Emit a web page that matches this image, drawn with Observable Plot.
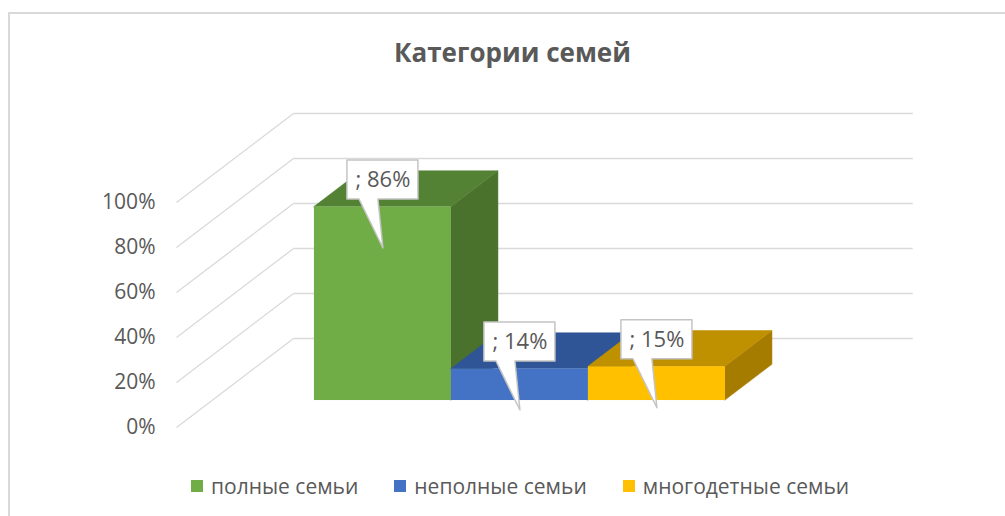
<!DOCTYPE html>
<html>
<head>
<meta charset="utf-8">
<script src="https://cdn.jsdelivr.net/npm/d3@7"></script>
<script src="https://cdn.jsdelivr.net/npm/@observablehq/plot@0.6"></script>
<style>
  body { margin: 0; background: #fff; font-family: "Open Sans", sans-serif; }
  #wrap { position: relative; width: 1005px; height: 516px; overflow: hidden; }
  #frame { position: absolute; left: 8px; top: 12px; width: 1040px; height: 540px; border: 2px solid #d9d9d9; box-sizing: border-box; }
  #title { position: absolute; left: 0; top: 37px; width: 1025px; text-align: center; font-weight: bold; font-size: 26px; line-height: 30px; color: #595959; }
  #plot { position: absolute; left: 0; top: 80px; }
  #legend { position: absolute; left: 191px; top: 473px; display: flex; align-items: center; font-size: 21px; line-height: 26px; color: #595959; white-space: nowrap; }
  .item { display: flex; align-items: center; margin-right: 36px; }
  .sw { width: 12px; height: 12px; margin-right: 8px; }
</style>
</head>
<body>
<div id="wrap">
  <div id="frame"></div>
  <div id="title">Категории семей</div>
  <div id="plot"></div>
  <div id="legend"></div>
</div>
<script>
// ---- data ----
const series = ["полные семьи", "неполные семьи", "многодетные семьи"];
const values = [86, 14, 15];
const valueLabels = ["; 86%", "; 14%", "; 15%"];
const tickValues = [0, 20, 40, 60, 80, 100];
const tickLabels = ["0%", "20%", "40%", "60%", "80%", "100%"];

// ---- styles ----
const frontColors = ["#70AD47", "#4472C4", "#FFC000"];
const topColors = ["#548235", "#2F5597", "#BF9000"];
const sideColors = ["#4A722D", "#2B4E8C", "#A67C00"];
const gridColor = "#d9d9d9";

// ---- pseudo-3D projection (layout constants) ----
const PXU = 137, PXV = 2.25;          // pixels per bar-width unit / per percent
const DX = 117 / PXU, DY = 89 / PXV;  // full depth offset in scale units
const FLOOR = 4.52, GAP = 0.748, D0 = 0.303, D1 = 0.705;
const px = (u, d) => u + d * DX;
const py = (v, d) => v + d * DY;
const CALLOUT = [[-36,-47],[35,-47],[35,-8],[-5,-8],[0,41],[-24,-8],[-36,-8],[-36,-47]];

const grid = tickValues.map(t => ({t}));
const marks = [
  Plot.link(grid, {x1: () => px(0, 0), y1: d => py(d.t, 0), x2: () => px(0, 1), y2: d => py(d.t, 1), stroke: gridColor, strokeWidth: 1.3}),
  Plot.link(grid, {x1: () => px(0, 1), y1: d => py(d.t, 1), x2: () => px(FLOOR, 1), y2: d => py(d.t, 1), stroke: gridColor, strokeWidth: 1.3}),
  Plot.axisY(tickValues, {anchor: "left", tickSize: 0, tickPadding: 21, fontSize: 21, tickFormat: d => tickLabels[tickValues.indexOf(d)], label: null})
];

series.forEach((s, i) => {
  const u0 = GAP + i, v = values[i];
  marks.push(Plot.area([D0, D1], {x1: d => px(u0 + 1, d), y1: d => py(0, d), y2: d => py(v, d), fill: sideColors[i], stroke: sideColors[i], strokeWidth: 0.5}));
  marks.push(Plot.area([D0, D1], {y1: d => py(v, d), x1: d => px(u0, d), x2: d => px(u0 + 1, d), fill: topColors[i], stroke: topColors[i], strokeWidth: 0.5}));
  marks.push(Plot.rect([v], {x1: () => px(u0, D0), x2: () => px(u0 + 1, D0), y1: () => py(0, D0), y2: d => py(d, D0), fill: frontColors[i]}));
});

series.forEach((s, i) => {
  const u0 = GAP + i, v = values[i];
  const cx = px(u0 + 0.5, D0), cy = py(v, D0);
  const pts = CALLOUT.map(([ox, oy]) => ({x: cx + ox / PXU, y: cy - oy / PXV}));
  marks.push(Plot.line(pts, {x: "x", y: "y", fill: "white", stroke: "#c4c4c4", strokeWidth: 1.5}));
  marks.push(Plot.text([valueLabels[i]], {x: () => cx, y: () => cy, text: d => d, dy: -27, fontSize: 22}));
});

const chart = Plot.plot({
  width: 1005,
  height: 380,
  marginLeft: 176,
  marginTop: 0, marginBottom: 0, marginRight: 0,
  x: {type: "linear", domain: [0, 1], range: [176, 176 + PXU], axis: null},
  y: {type: "linear", domain: [0, 100], range: [347, 347 - 100 * PXV], axis: null},
  style: {fontFamily: "Open Sans, sans-serif", color: "#595959", background: "transparent", overflow: "visible"},
  marks
});
document.getElementById("plot").appendChild(chart);

const legend = document.getElementById("legend");
series.forEach((s, i) => {
  const item = document.createElement("div");
  item.className = "item";
  const sw = document.createElement("div");
  sw.className = "sw";
  sw.style.background = frontColors[i];
  const tx = document.createElement("span");
  tx.textContent = s;
  item.appendChild(sw); item.appendChild(tx);
  legend.appendChild(item);
});
</script>
</body>
</html>
